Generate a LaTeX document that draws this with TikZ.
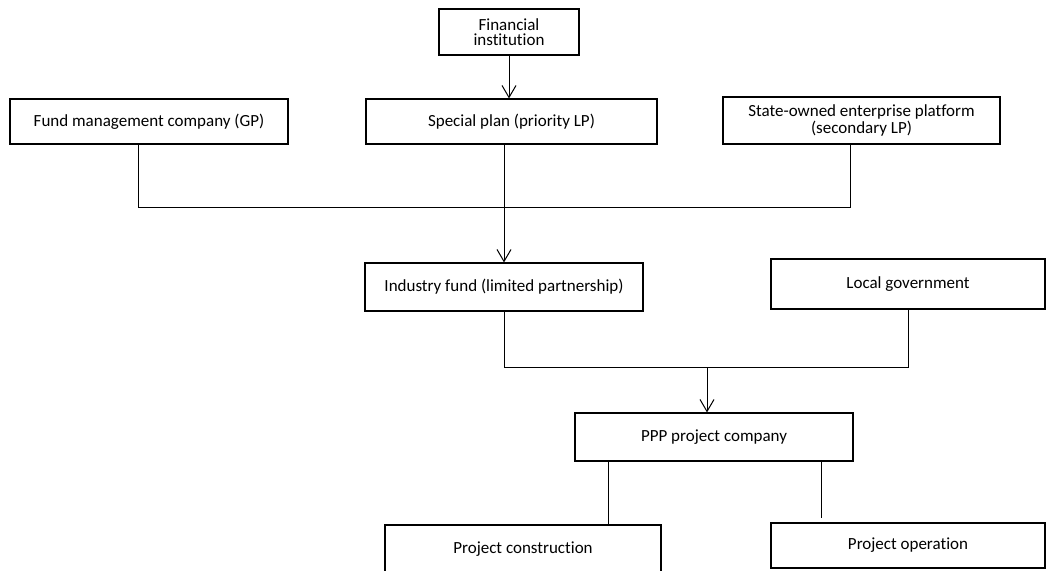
\documentclass[tikz,border=0pt]{standalone}
\usepackage{fontspec}
\setmainfont[Ligatures=NoCommon]{Carlito}
\usepackage{tikz}
\usetikzlibrary{arrows.meta, positioning}

\tikzset{
  blockbox/.style={draw=black, line width=1.1pt, inner sep=0pt, align=center,
    font=\fontsize{17}{15}\selectfont},
  link/.style={draw=black, line width=1pt},
  linkarrow/.style={link, -{Straight Barb[length=12pt, width=14pt, line width=1pt]}}
}

\begin{document}
\begin{tikzpicture}[x=1pt, y=1pt]
      \useasboundingbox (0,0) rectangle (1046,-570);
      % top row
      \node[blockbox, minimum width=140, minimum height=46] (fin) at (509,-32) {Financial\\institution};
      \node[blockbox, minimum width=278, minimum height=45] (fund) at (149,-121.5) {Fund management company (GP)};
      \node[blockbox, minimum width=291, minimum height=45] (spec) at (511.5,-121.5) {Special plan (priority LP)};
      \node[blockbox, minimum width=277, minimum height=47] (state) at (861.5,-120.5) {State-owned enterprise platform\\(secondary LP)};
      % middle row
      \node[blockbox, minimum width=278, minimum height=48] (ind) at (504,-287) {Industry fund (limited partnership)};
      \node[blockbox, minimum width=274, minimum height=50] (loc) at (908,-284) {Local government};
      \node[blockbox, minimum width=278, minimum height=48] (ppp) at (714,-437) {PPP project company};
      % bottom row
      \node[blockbox, minimum width=276, minimum height=48] (constr) at (523,-549) {Project construction};
      \node[blockbox, minimum width=274, minimum height=45] (op) at (908,-545.5) {Project operation};
      \coordinate (busA) at (504,-207);
      \coordinate (busB) at (707,-367);
      % connectors
      \draw[linkarrow] (fin.south) -- (fin.south |- spec.north);
      \draw[link] ([xshift=-11pt]fund.south) |- ([xshift=-11pt]state.south |- busA) -- ([xshift=-11pt]state.south);
      \draw[linkarrow] (spec.south -| ind.north) -- (ind.north);
      \draw[link] (ind.south) |- (loc.south |- busB) -- (loc.south);
      \draw[linkarrow] (busB) -- (busB |- ppp.north);
      \draw[link] ([xshift=-106pt]ppp.south) -- ([xshift=-106pt]ppp.south |- constr.north);
      \draw[link] ([xshift=107pt]ppp.south) -- ([xshift=107pt, yshift=4pt]ppp.south |- op.north);
    \end{tikzpicture}
\end{document}
